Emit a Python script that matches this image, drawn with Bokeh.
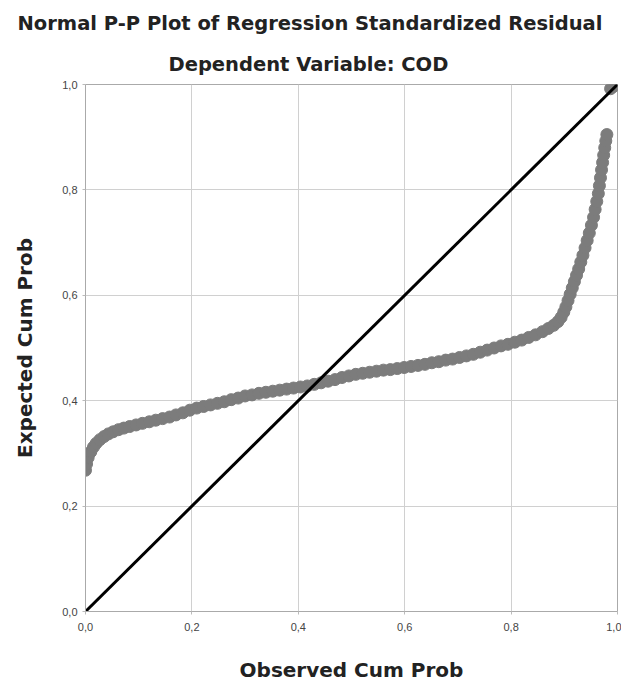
from bokeh.plotting import figure
from bokeh.models import Range1d, FixedTicker, Title
from bokeh.embed import file_html
from bokeh.resources import INLINE

# ---- data ----
obs_cum_prob = [0.000, 0.002, 0.005, 0.010, 0.015, 0.020, 0.027, 0.035, 0.043, 0.052,
                0.062, 0.072, 0.083, 0.095, 0.107, 0.120, 0.132, 0.145, 0.158, 0.170,
                0.183, 0.196, 0.209, 0.222, 0.235, 0.248, 0.261, 0.274, 0.287, 0.300,
                0.313, 0.326, 0.339, 0.352, 0.365, 0.378, 0.391, 0.404, 0.417, 0.430,
                0.443, 0.456, 0.469, 0.482, 0.495, 0.508, 0.521, 0.534, 0.547, 0.560,
                0.573, 0.586, 0.599, 0.612, 0.625, 0.638, 0.651, 0.664, 0.677, 0.690,
                0.703, 0.716, 0.729, 0.742, 0.755, 0.768, 0.781, 0.794, 0.807, 0.820,
                0.833, 0.846, 0.859, 0.870, 0.880, 0.888, 0.894, 0.899, 0.903, 0.907,
                0.911, 0.915, 0.919, 0.923, 0.927, 0.931, 0.935, 0.939, 0.943, 0.947,
                0.951, 0.955, 0.958, 0.961, 0.964, 0.966, 0.968, 0.970, 0.972, 0.974,
                0.976, 0.978, 0.980, 0.987, 0.992, 0.996]
exp_cum_prob = [0.268, 0.280, 0.292, 0.303, 0.312, 0.319, 0.326, 0.332, 0.337, 0.341,
                0.345, 0.348, 0.351, 0.354, 0.357, 0.360, 0.363, 0.366, 0.369, 0.373,
                0.377, 0.382, 0.386, 0.389, 0.392, 0.395, 0.398, 0.402, 0.405, 0.409,
                0.411, 0.414, 0.416, 0.418, 0.420, 0.422, 0.424, 0.426, 0.428, 0.431,
                0.434, 0.437, 0.440, 0.444, 0.447, 0.450, 0.452, 0.454, 0.456, 0.458,
                0.459, 0.461, 0.463, 0.465, 0.467, 0.469, 0.472, 0.474, 0.477, 0.479,
                0.482, 0.485, 0.488, 0.492, 0.496, 0.500, 0.504, 0.507, 0.511, 0.515,
                0.520, 0.525, 0.531, 0.537, 0.543, 0.550, 0.558, 0.568, 0.578, 0.590,
                0.602, 0.614, 0.626, 0.638, 0.650, 0.663, 0.676, 0.690, 0.704, 0.718,
                0.733, 0.748, 0.763, 0.778, 0.793, 0.808, 0.823, 0.838, 0.852, 0.866,
                0.880, 0.893, 0.905, 0.992, 0.996, 1.000]
diag_x = [0.0, 1.0]
diag_y = [0.0, 1.0]
tick_values = [0.0, 0.2, 0.4, 0.6, 0.8, 1.0]
tick_labels = ["0,0", "0,2", "0,4", "0,6", "0,8", "1,0"]
title_text = "Normal P-P Plot of Regression Standardized Residual"
subtitle_text = "Dependent Variable: COD"

FONT = "Liberation Sans"
BOLD = "DejaVu Sans"

p = figure(width=621, height=684, output_backend="svg", toolbar_location=None,
           x_range=Range1d(0, 1), y_range=Range1d(0, 1),
           min_border_left=85, min_border_right=4, min_border_top=84, min_border_bottom=71)

p.title.text = title_text
p.title.align = "left"
p.title.offset = -68
p.title.text_font = BOLD
p.title.text_font_size = "19.5px"
p.title.text_font_style = "bold"
p.title.text_color = "#222222"
p.title.standoff = 16

sub = Title(text=subtitle_text, align="left", offset=83, text_font=BOLD,
            text_font_size="19.5px", text_font_style="bold", text_color="#222222",
            standoff=17)
p.add_layout(sub, "above")

p.scatter(obs_cum_prob, exp_cum_prob, size=12, marker="circle",
          fill_color="#7c7c7c", line_color="#7c7c7c")
p.line(diag_x, diag_y, line_color="black", line_width=3)

for ax in (p.xaxis[0], p.yaxis[0]):
    ax.ticker = FixedTicker(ticks=tick_values)
    ax.major_label_overrides = {v: l for v, l in zip(tick_values, tick_labels)}
    ax.major_label_text_font = FONT
    ax.major_label_text_font_size = "11px"
    ax.major_label_text_color = "#444444"
    ax.minor_tick_line_color = None
    ax.major_tick_in = 0
    ax.major_tick_out = 3
    ax.major_tick_line_color = "#bbbbbb"
    ax.axis_line_color = "#aaaaaa"
    ax.axis_label_text_font = BOLD
    ax.axis_label_text_font_size = "20px"
    ax.axis_label_text_font_style = "bold"
    ax.axis_label_text_color = "#222222"

p.xaxis.axis_label = "Observed Cum Prob"
p.yaxis.axis_label = "Expected Cum Prob"
p.xaxis.major_label_standoff = 8
p.xaxis.axis_label_standoff = 24
p.yaxis.axis_label_standoff = 22

p.grid.grid_line_color = "#d0d0d0"
p.grid.grid_line_width = 1
p.outline_line_color = "#aaaaaa"
p.background_fill_color = "white"
p.border_fill_color = "white"

open("out.html", "w").write(file_html(p, INLINE))
